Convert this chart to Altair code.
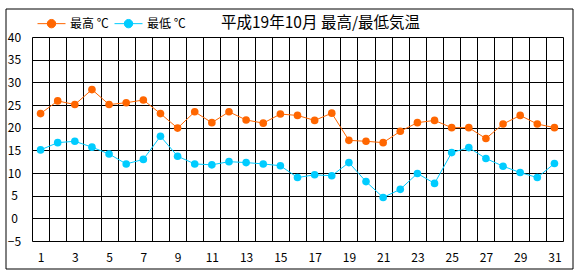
import altair as alt
import pandas as pd

days = list(range(1, 32))
max_temp = [23.1, 25.9, 25.1, 28.4, 25.1, 25.5, 26.1, 23.1, 19.9, 23.5,
            21.1, 23.5, 21.7, 21.0, 23.0, 22.7, 21.6, 23.2, 17.2, 17.0,
            16.7, 19.2, 21.1, 21.6, 20.0, 20.0, 17.6, 20.8, 22.7, 20.8, 20.0]
min_temp = [15.1, 16.7, 17.0, 15.7, 14.2, 12.0, 13.0, 18.1, 13.7, 12.0,
            11.8, 12.5, 12.3, 12.0, 11.6, 9.0, 9.6, 9.4, 12.3, 8.1,
            4.6, 6.4, 9.9, 7.7, 14.5, 15.6, 13.2, 11.5, 10.1, 9.0, 12.1]
series_names = ["最高 ℃", "最低 ℃"]
series_colors = ["#FF6600", "#00CCFF"]
y_ticks = list(range(-5, 41, 5))
x_label_days = list(range(1, 32, 2))
title_text = "平成19年10月 最高/最低気温"

df = pd.concat([
    pd.DataFrame({"day": days, "temp": max_temp, "series": series_names[0]}),
    pd.DataFrame({"day": days, "temp": min_temp, "series": series_names[1]}),
])

FONT = "Noto Sans CJK JP"
grid_values = [d - 0.5 for d in days] + [days[-1] + 0.5]
x_values = sorted(grid_values + x_label_days)

x_enc = alt.X(
    "day:Q",
    scale=alt.Scale(domain=[0.5, 31.5], nice=False, zero=False),
    axis=alt.Axis(
        values=x_values,
        title=None,
        grid=True,
        gridColor="black",
        gridOpacity={"condition": {"test": "datum.value % 1 === 0", "value": 0}, "value": 1},
        labelExpr="datum.value % 1 === 0 ? format(datum.value, 'd') : ''",
        labelOverlap=False,
        labelFlush=False,
        domain=False,
        ticks=False,
        tickSize=0,
        labelPadding=11,
        labelFontSize=12,
        labelFont=FONT,
        labelColor="black",
    ),
)
y_enc = alt.Y(
    "temp:Q",
    scale=alt.Scale(domain=[-5, 40], nice=False, zero=False),
    axis=alt.Axis(
        values=y_ticks,
        title=None,
        grid=True,
        gridColor="black",
        domain=False,
        ticks=False,
        tickSize=0,
        labelAlign="center",
        labelBaseline="middle",
        labelPadding=18,
        labelFontSize=12,
        labelFont=FONT,
        labelColor="black",
    ),
)

legend_opts = dict(
    title=None,
    orient="none",
    direction="horizontal",
    legendX=5,
    legendY=-28,
    padding=0,
    symbolType="M-1,0H1M0.3,0A0.3,0.3,0,1,1,-0.3,0A0.3,0.3,0,1,1,0.3,0Z",
    symbolSize=784,
    symbolStrokeWidth=1,
    symbolOpacity=1,
    labelFont=FONT,
    labelFontSize=12,
    labelColor="black",
    labelOffset=4,
    columnPadding=3,
)

base = alt.Chart(df)

lines = base.mark_line(strokeWidth=1).encode(
    x=x_enc,
    y=y_enc,
    color=alt.Color("series:N", scale=alt.Scale(domain=series_names, range=series_colors),
                    legend=alt.Legend(**legend_opts)),
)

points = base.mark_point(filled=True, size=58, opacity=1, shape="circle").encode(
    x=x_enc,
    y=y_enc,
    fill=alt.Fill("series:N", scale=alt.Scale(domain=series_names, range=series_colors),
                  legend=alt.Legend(**legend_opts)),
)

frame = alt.Chart(alt.Data(values=[{}])).mark_rect(
    fill=None, stroke="black", strokeWidth=1
).encode(
    x=alt.value(-26), x2=alt.value(541), y=alt.value(-28), y2=alt.value(232)
)

chart = alt.layer(lines, points, frame).properties(
    width=531,
    height=204,
    padding={"left": 32, "top": 37, "right": 17, "bottom": 39},
    autosize=alt.AutoSizeParams(type="none"),
    title=alt.TitleParams(
        title_text,
        anchor="start",
        frame="group",
        dx=189,
        dy=5,
        baseline="middle",
        fontSize=15.5,
        fontWeight="normal",
        font=FONT,
        color="black",
        offset=-25,
    ),
).configure_view(
    stroke="black", strokeWidth=1
).configure(background="white")

chart.save("out.html", embed_options={"renderer": "svg", "actions": False})
